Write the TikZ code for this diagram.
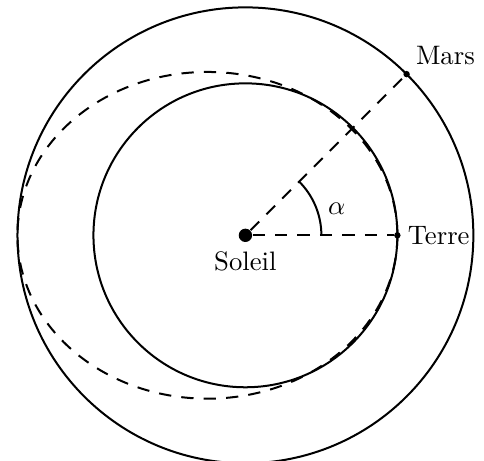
\documentclass[tikz,border=0pt]{standalone}
\usepackage{amsmath,amssymb}
\usepackage{xcolor}
\usepackage{tikz}
\usetikzlibrary{positioning}

\begin{document}
\begin{tikzpicture}[
      x=1cm, y=1cm,
      orbit/.style={draw=black, line width=0.75pt},
      transfer/.style={draw=black, line width=0.75pt, dash pattern=on 4.6pt off 3.8pt},
      sun/.style={circle, fill=black, inner sep=0pt, minimum size=5pt},
      planet/.style={circle, fill=black, inner sep=0pt, minimum size=2.4pt}
    ]
      \useasboundingbox (-3.23,-2.97) rectangle (3.14,3.097);
      \draw[orbit] (0,0) circle (2);
      \draw[orbit] (0,0) circle (3);
      \draw[transfer] (-0.5,0) ellipse (2.5 and 2.15);
      \node[sun] (soleil) at (0,0) {};
      \node[planet] (terre) at (0:2) {};
      \node[planet] (mars) at (45:3) {};
      \draw[transfer] (soleil) -- (terre);
      \draw[transfer] (soleil) -- (mars);
      \draw[orbit] (1,0) arc (0:45:1);
      \node (alpha) at (1.2,0.35) {$\alpha$};
      \node[below=0pt of soleil] (soleilLbl) {Soleil};
      \node[right=-1pt of terre] (terreLbl) {Terre};
      \node[above right=-1pt and -1pt of mars] (marsLbl) {Mars};
    \end{tikzpicture}
\end{document}
